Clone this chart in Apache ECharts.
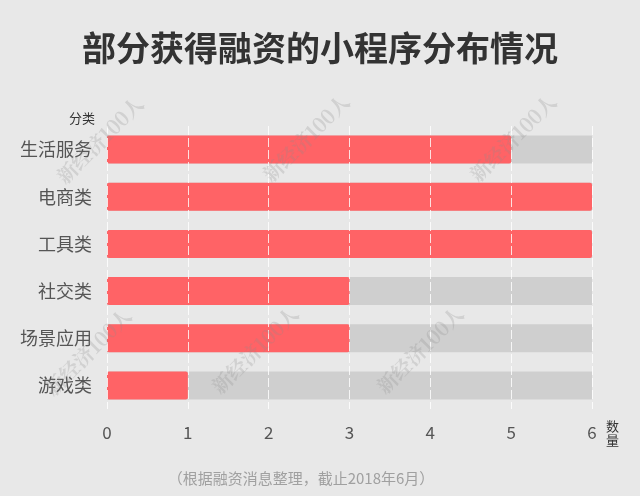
<!DOCTYPE html>
<html><head><meta charset="utf-8">
<script src="https://cdn.jsdelivr.net/npm/echarts@6/dist/echarts.min.js"></script>
<style>html,body{margin:0;padding:0;background:#e8e8e8;}#c{width:640px;height:496px;}</style>
</head><body><div id="c"></div>
<script>
const categories = ['生活服务','电商类','工具类','社交类','场景应用','游戏类'];
const values = [5, 6, 6, 3, 3, 1];
const xTicks = [0, 1, 2, 3, 4, 5, 6];
const titleText = '部分获得融资的小程序分布情况';
const footText = '（根据融资消息整理，截止2018年6月）';
const watermark = '新经济100人';

const font = '"Noto Sans CJK SC","Noto Sans",sans-serif';
const wmPos = [[100,140],[306,138],[513,138],[88,352],[255,350],[420,350]];
const chart = echarts.init(document.getElementById('c'));
chart.setOption({
  backgroundColor: '#e8e8e8',
  textStyle: {fontFamily: font},
  title: {
    text: titleText, left: 'center', top: 26,
    textStyle: {fontSize: 34, fontWeight: 'bold', color: '#333', fontFamily: font}
  },
  grid: {left: 107, right: 48, top: 126, bottom: 87},
  xAxis: {
    type: 'value', min: xTicks[0], max: xTicks[xTicks.length-1], interval: 1, z: 5,
    name: '数\n量', nameLocation: 'end', nameGap: 14,
    nameTextStyle: {fontSize: 13, color: '#333', lineHeight: 14, verticalAlign: 'top', padding: [10,0,0,0]},
    axisLine: {show: false}, axisTick: {show: false},
    axisLabel: {fontSize: 17, color: '#555', margin: 15},
    splitLine: {show: true, lineStyle: {color: 'rgba(255,255,255,0.8)', type: [9,3], width: 1}}
  },
  yAxis: {
    type: 'category', data: categories, inverse: true,
    name: '分类', nameLocation: 'start', nameGap: 1,
    nameTextStyle: {fontSize: 13, color: '#333', align: 'right', padding: [0, 12, 0, 0]},
    axisLine: {show: false}, axisTick: {show: false},
    axisLabel: {fontSize: 18, color: '#555', margin: 15}
  },
  series: [{
    type: 'bar', data: values, barWidth: 28,
    itemStyle: {color: '#ff6366', borderRadius: 2},
    showBackground: true,
    backgroundStyle: {color: '#cfcfcf'}
  }],
  graphic: [
    {type: 'text', x: 301, y: 478,
     style: {text: footText, fontSize: 15, fill: '#a0a0a0', fontFamily: font, align: 'center', verticalAlign: 'middle'}},
  ].concat(wmPos.map(p => ({
    type: 'text', x: p[0], y: p[1], rotation: Math.PI/4, z: 100,
    style: {text: watermark, fontSize: 20, fill: 'rgba(140,140,140,0.25)', align: 'center', verticalAlign: 'middle', fontFamily: '"Noto Serif CJK SC",serif', fontWeight: 'bold'}
  })))
});
</script></body></html>
